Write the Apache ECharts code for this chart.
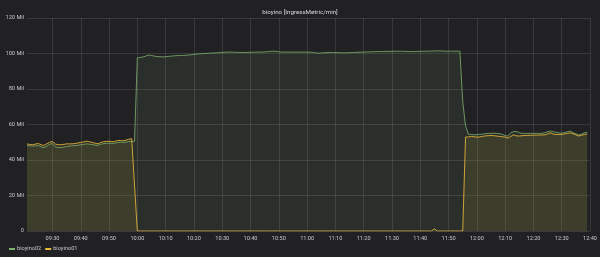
<!DOCTYPE html>
<html>
<head>
<meta charset="utf-8">
<script src="https://cdn.jsdelivr.net/npm/echarts@6/dist/echarts.min.js"></script>
<style>
html,body{margin:0;padding:0;background:#212124;}
#c{width:600px;height:257px;}
</style>
</head>
<body>
<div id="c"></div>
<script>
// Time axis: one sample per minute starting at 09:21
const startTime = '09:21';
const xMin = '09:21';
const xMax = '12:40';
const titleText = 'bioyino [IngressMetric/min]';
const seriesNames = ['bioyino02', 'bioyino01'];
const yTicks = [0, 20, 40, 60, 80, 100, 120];

// bioyino02 (green), Mil
const bioyino02 = [
48.2,48.0,47.8,48.0,48.2,47.4,47.0,47.8,48.8,49.3,
47.4,47.0,47.0,47.3,47.6,47.9,48.0,48.1,48.3,48.6,
48.8,49.1,48.9,48.7,48.4,48.2,48.8,49.2,49.4,49.5,
49.4,49.4,49.9,50.0,49.9,50.1,50.4,50.5,50.5,97.5,
97.8,98.0,98.6,99.1,98.9,98.5,98.3,98.2,98.1,98.2,
98.4,98.5,98.7,98.8,98.9,98.9,99.0,99.1,99.3,99.5,
99.7,99.8,99.9,100.0,100.1,100.2,100.3,100.4,100.5,100.6,
100.7,100.8,100.8,100.7,100.7,100.6,100.6,100.6,100.6,100.7,
100.7,100.8,100.8,100.8,100.9,101.0,101.2,101.3,101.2,101.0,
100.8,100.8,100.8,100.8,100.8,100.8,100.8,100.8,100.8,100.8,
100.8,100.6,100.3,100.2,100.3,100.4,100.5,100.6,100.6,100.5,
100.5,100.4,100.4,100.4,100.5,100.6,100.6,100.7,100.8,100.8,
100.9,100.9,101.0,101.0,101.1,101.1,101.1,101.2,101.2,101.2,
101.3,101.3,101.3,101.2,101.2,101.1,101.1,101.1,101.2,101.2,
101.3,101.3,101.3,101.4,101.4,101.5,101.5,101.4,101.3,101.3,
101.3,101.3,101.3,101.3,73.0,59.2,54.6,54.4,54.2,54.3,
54.5,54.6,54.8,55.0,55.0,55.1,55.0,54.8,54.5,53.8,
53.4,55.4,56.0,56.1,55.4,55.0,55.0,55.0,55.0,55.0,
55.0,55.0,55.0,55.4,55.9,56.3,55.9,55.6,55.3,55.1,
55.5,55.9,56.3,55.4,54.8,54.1,54.6,55.3,55.5
];

// bioyino01 (yellow), Mil
const bioyino01 = [
49.0,48.8,48.6,49.0,49.3,48.6,48.2,49.2,50.0,50.4,
49.0,48.6,48.6,48.8,49.1,49.1,49.1,49.3,49.6,49.9,
50.2,50.6,50.3,49.9,49.5,49.1,49.8,50.3,50.5,50.6,
50.3,50.4,51.0,51.0,50.8,51.2,51.7,52.0,26.0,0,
0,0,0,0,0,0,0,0,0,0,
0,0,0,0,0,0,0,0,0,0,
0,0,0,0,0,0,0,0,0,0,
0,0,0,0,0,0,0,0,0,0,
0,0,0,0,0,0,0,0,0,0,
0,0,0,0,0,0,0,0,0,0,
0,0,0,0,0,0,0,0,0,0,
0,0,0,0,0,0,0,0,0,0,
0,0,0,0,0,0,0,0,0,0,
0,0,0,0,0,0,0,0,0,0,
0,0,0,0,1.2,0,0,0,0,0,
0,0,0,0,0,52.9,53.0,53.2,53.1,52.9,
53.0,53.3,53.6,53.7,53.8,53.7,53.5,53.3,53.1,52.9,
52.3,53.3,54.2,53.6,53.5,53.7,53.8,53.9,53.9,54.0,
54.0,54.1,54.1,54.2,54.7,55.3,54.6,54.4,54.4,54.4,
54.7,55.0,55.3,54.8,54.2,53.5,53.9,54.4,54.6
];

function toMin(s){ const p = s.split(':'); return (+p[0])*60 + (+p[1]); }
function fmt(m){ const h = Math.floor(m/60), mm = Math.round(m%60); return String(h).padStart(2,'0')+':'+String(mm).padStart(2,'0'); }
const t0 = toMin(startTime);
const pair = arr => arr.map((v,i) => [t0 + i, v]);

const chart = echarts.init(document.getElementById('c'), null, {renderer:'canvas'});
const FONT = 'Roboto';
chart.setOption({
  backgroundColor: '#212124',
  animation: false,
  title: {
    text: titleText,
    left: 'center',
    top: 4,
    textStyle: {color:'#d8d9da', fontSize:6.2, fontWeight:'normal', fontFamily:FONT}
  },
  legend: {
    data: seriesNames,
    left: 9,
    top: 246,
    itemWidth: 6,
    itemHeight: 2,
    itemGap: 4,
    icon: 'rect',
    padding: 0,
    textStyle: {color:'#c8c8c8', fontSize:5.6, fontFamily:FONT, padding:[0,0,0,-3]}
  },
  grid: {left:27, right:7, top:18, bottom:26, containLabel:false},
  xAxis: {
    type: 'value',
    min: toMin(xMin),
    max: toMin(xMax),
    splitNumber: 20,
    axisLine: {show:false},
    axisTick: {show:false},
    axisLabel: {
      color:'#c8c8c8', fontSize:5.6, fontFamily:FONT, margin:5,
      showMinLabel:false,
      formatter: v => fmt(v)
    },
    splitLine: {show:true, showMinLine:false, lineStyle:{color:'rgba(255,255,255,0.11)', width:1}}
  },
  yAxis: {
    type: 'value',
    min: yTicks[0],
    max: yTicks[yTicks.length-1],
    interval: 20,
    axisLine: {show:false},
    axisTick: {show:false},
    axisLabel: {
      color:'#c8c8c8', fontSize:5.6, fontFamily:FONT, margin:3,
      formatter: v => v === 0 ? '0' : v + ' Mil'
    },
    splitLine: {show:true, lineStyle:{color:'rgba(255,255,255,0.11)', width:1}}
  },
  series: [
    {
      name: seriesNames[0], type:'line', data: pair(bioyino02),
      showSymbol:false, symbol:'none', color:'#7eb26d',
      lineStyle:{width:1, color:'#7eb26d', opacity:0.8},
      areaStyle:{color:'#7eb26d', opacity:0.1}
    },
    {
      name: seriesNames[1], type:'line', data: pair(bioyino01),
      showSymbol:false, symbol:'none', color:'#eab839',
      lineStyle:{width:1, color:'#eab839', opacity:0.85},
      areaStyle:{color:'#eab839', opacity:0.1}
    }
  ]
});
</script>
</body>
</html>
